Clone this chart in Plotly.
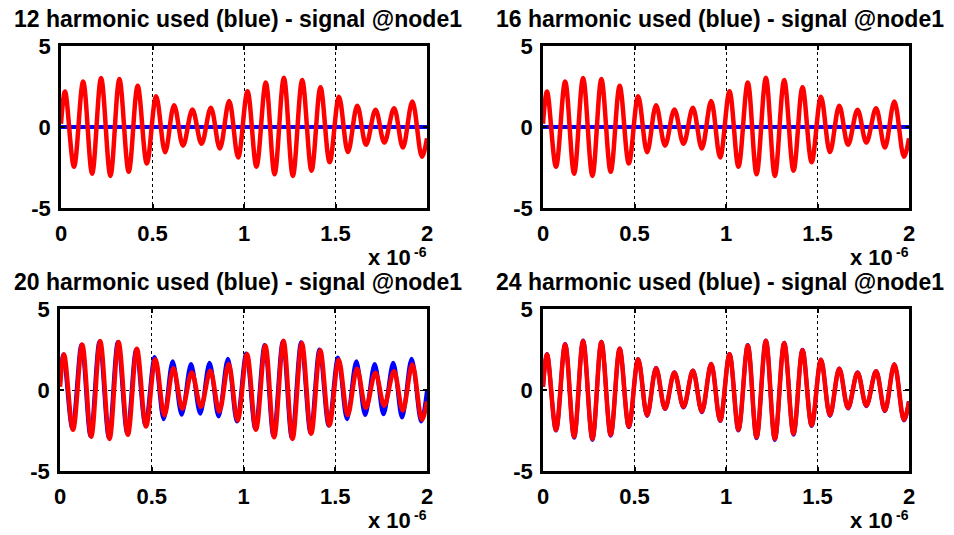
import plotly.graph_objects as go

# Time axis in microseconds (axis labels carry the x 10^-6 factor)
t_signal = [0.0, 0.022, 0.071, 0.121, 0.170, 0.219, 0.270, 0.319, 0.370, 0.419,
            0.469, 0.520, 0.569, 0.618, 0.667, 0.718, 0.768, 0.819, 0.868, 0.919,
            0.968, 1.019, 1.068, 1.119, 1.167, 1.218, 1.267, 1.318, 1.369, 1.418,
            1.468, 1.519, 1.568, 1.619, 1.667, 1.719, 1.767, 1.820, 1.868, 1.920,
            1.972, 2.0]

# Reference signal at node1 (red), turning points of the waveform
v_signal = [0.2, 2.19, -2.46, 2.81, -2.88, 3.02, -3.02, 2.96, -2.77, 2.54,
            -2.25, 1.90, -1.56, 1.35, -1.15, 1.08, -1.04, 1.19, -1.33, 1.60,
            -1.88, 2.20, -2.45, 2.75, -2.92, 3.04, -3.02, 2.90, -2.70, 2.46,
            -2.17, 1.86, -1.55, 1.31, -1.10, 1.07, -0.96, 1.16, -1.27, 1.57,
            -1.84, -0.7]

# Harmonic reconstructions (blue)
t_h12 = [0.0, 2.0]
v_h12 = [0.0, 0.0]

t_h16 = [0.0, 2.0]
v_h16 = [0.0, 0.0]

t_h20 = [0.0, 0.018, 0.067, 0.117, 0.166, 0.215, 0.266, 0.315, 0.366, 0.415,
         0.465, 0.516, 0.565, 0.614, 0.663, 0.714, 0.764, 0.815, 0.864, 0.915,
         0.964, 1.015, 1.064, 1.115, 1.163, 1.214, 1.263, 1.314, 1.365, 1.414,
         1.464, 1.515, 1.564, 1.615, 1.663, 1.715, 1.763, 1.816, 1.864, 1.916,
         1.968, 2.0]
v_h20 = [0.3, 2.20, -2.36, 2.80, -2.84, 3.00, -2.94, 2.96, -2.67, 2.50,
         -2.15, 2.03, -1.80, 1.78, -1.53, 1.60, -1.47, 1.68, -1.64, 1.93,
         -1.95, 2.26, -2.40, 2.78, -2.85, 3.00, -2.95, 2.95, -2.65, 2.50,
         -2.20, 2.00, -1.80, 1.78, -1.55, 1.60, -1.50, 1.68, -1.70, 1.93,
         -1.95, 0.0]

t_h24 = t_signal
v_h24 = [0.2, 2.22, -2.50, 2.84, -2.95, 3.05, -3.08, 2.98, -2.82, 2.56,
         -2.30, 1.92, -1.60, 1.37, -1.18, 1.10, -1.08, 1.20, -1.37, 1.62,
         -1.92, 2.22, -2.50, 2.78, -2.98, 3.06, -3.08, 2.92, -2.76, 2.48,
         -2.22, 1.88, -1.60, 1.33, -1.14, 1.09, -1.00, 1.18, -1.31, 1.59,
         -1.88, -0.7]

harmonics = [12, 16, 20, 24]
blue_t = [t_h12, t_h16, t_h20, t_h24]
blue_v = [v_h12, v_h16, v_h20, v_h24]

x_ticks = [0, 0.5, 1, 1.5, 2]
x_ticktext = ["0", "0.5", "1", "1.5", "2"]
y_ticks = [-5, 0, 5]
y_ticktext = ["-5", "0", "5"]

W, H = 954, 535
FONT = "Liberation Sans, Arial, Helvetica, sans-serif"

# pixel boxes of the four axes: (left, right, top, bottom)
boxes = [(61, 427, 46, 208), (543, 909, 46, 208),
         (60, 427, 309, 471), (543, 909, 309, 471)]

fig = go.Figure()
annotations = []


def label(text, x_px, y_px, size, xanchor, yanchor):
    return dict(text=text, xref="paper", yref="paper", x=x_px / W, y=1 - y_px / H,
                xanchor=xanchor, yanchor=yanchor, showarrow=False, borderpad=0,
                font=dict(family=FONT, size=size, color="black", weight="bold"))


for i, (n, bt, bv, box) in enumerate(zip(harmonics, blue_t, blue_v, boxes)):
    k = "" if i == 0 else str(i + 1)
    xa, ya = "x" + k, "y" + k
    fig.add_trace(go.Scatter(x=bt, y=bv, mode="lines", xaxis=xa, yaxis=ya,
                             line=dict(color="#0000ff", width=4, shape="spline",
                                       smoothing=1.0),
                             showlegend=False, hoverinfo="skip"))
    fig.add_trace(go.Scatter(x=t_signal, y=v_signal, mode="lines", xaxis=xa, yaxis=ya,
                             line=dict(color="#ff0000", width=4.5, shape="spline",
                                       smoothing=1.0),
                             showlegend=False, hoverinfo="skip"))
    l, r, t, b = box
    axis_common = dict(showline=True, linecolor="black", linewidth=2.5, mirror="ticks",
                       ticks="inside", ticklen=4, tickwidth=1.5, tickcolor="black",
                       showgrid=True, gridcolor="black", gridwidth=1, griddash="dot",
                       zeroline=False, automargin=False,
                       tickfont=dict(family=FONT, size=22, color="black", weight="bold"))
    fig.layout["xaxis" + k] = dict(axis_common, domain=[l / W, r / W], range=[0, 2],
                                   tickvals=x_ticks, ticktext=x_ticktext,
                                   anchor=ya, ticklabelstandoff=4)
    fig.layout["yaxis" + k] = dict(axis_common, domain=[1 - b / H, 1 - t / H],
                                   range=[-5, 5], tickvals=y_ticks, ticktext=y_ticktext,
                                   anchor=xa, ticklabelstandoff=3)
    # subplot title
    annotations.append(label(f"{n} harmonic used (blue) - signal @node1",
                             (l + r) / 2 - 6, t - 13, 23, "center", "bottom"))
    # axis exponent "x 10^-6" below the right end of the time axis
    annotations.append(label("x 10", r - 15, b + 63, 22, "right", "bottom"))
    annotations.append(label("-6", r - 14, b + 53, 14, "left", "bottom"))

fig.update_layout(width=W, height=H, margin=dict(l=0, r=0, t=0, b=0),
                  paper_bgcolor="white", plot_bgcolor="white",
                  annotations=annotations)

fig.write_html("out.html")
